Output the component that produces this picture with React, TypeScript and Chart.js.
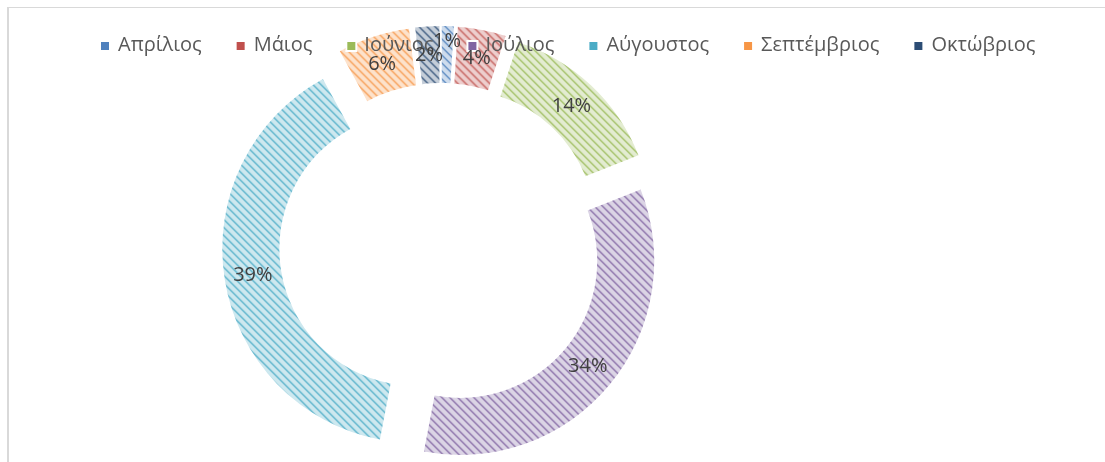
import React, { useEffect, useRef } from 'react';
import { Chart, registerables } from 'chart.js';

Chart.register(...registerables);

const months = ['Απρίλιος', 'Μάιος', 'Ιούνιος', 'Ιούλιος', 'Αύγουστος', 'Σεπτέμβριος', 'Οκτώβριος'];
const shares = [1, 4, 14, 34, 39, 6, 2];
const shareLabels = ['1%', '4%', '14%', '34%', '39%', '6%', '2%'];
const seriesColors = ['#4F81BD', '#C0504D', '#9BBB59', '#8064A2', '#4BACC6', '#F79646', '#2C4D75'];

const EXPLODE = 25;
const FONT = '20px "Open Sans"';

function mix(hex: string, amt: number): string {
  const n = parseInt(hex.slice(1), 16);
  const r = (n >> 16) & 255, g = (n >> 8) & 255, b = n & 255;
  const m = (c: number) => Math.round(c + (255 - c) * amt);
  return `rgb(${m(r)},${m(g)},${m(b)})`;
}

function makePattern(color: string): CanvasPattern | string {
  const c = document.createElement('canvas');
  c.width = 8;
  c.height = 8;
  const g = c.getContext('2d');
  if (!g) return color;
  g.fillStyle = mix(color, 0.72);
  g.fillRect(0, 0, 8, 8);
  for (let y = 0; y < 8; y++) {
    for (let x = 0; x < 8; x++) {
      const k = (((x - y) % 8) + 8) % 8;
      if (k === 1) {
        g.fillStyle = mix(color, 0.08);
        g.fillRect(x, y, 1, 1);
      } else if (k === 0 || k === 2) {
        g.fillStyle = mix(color, 0.42);
        g.fillRect(x, y, 1, 1);
      }
    }
  }
  const p = g.createPattern(c, 'repeat');
  return p || color;
}

const explodePlugin = {
  id: 'explode',
  beforeDatasetDraw(chart: any, args: any) {
    const ctx = chart.ctx;
    args.meta.data.forEach((arc: any) => {
      const half = (arc.startAngle + arc.endAngle) / 2;
      ctx.save();
      ctx.translate(Math.cos(half) * EXPLODE, Math.sin(half) * EXPLODE);
      arc.draw(ctx, chart.chartArea);
      ctx.restore();
    });
    return false;
  },
  afterDatasetsDraw(chart: any) {
    const ctx = chart.ctx;
    // legend
    ctx.save();
    ctx.font = FONT;
    ctx.textBaseline = 'alphabetic';
    ctx.textAlign = 'left';
    let x = 101;
    const baseY = 51;
    months.forEach((m, i) => {
      ctx.fillStyle = '#ffffff';
      ctx.fillRect(x - 2, 40, 12, 12);
      ctx.fillStyle = seriesColors[i];
      ctx.fillRect(x, 42, 8, 8);
      ctx.fillStyle = '#595959';
      const tx = x + 17;
      ctx.fillText(m, tx, baseY);
      x = tx + ctx.measureText(m).width + 35;
    });
    ctx.restore();

    // data labels (larger slices take priority)
    ctx.save();
    ctx.font = FONT;
    ctx.fillStyle = '#404040';
    ctx.textAlign = 'center';
    ctx.textBaseline = 'middle';
    const placed: { x: number; y: number; w: number }[] = [];
    const meta = chart.getDatasetMeta(0);
    const order = shares.map((_, i) => i).sort((a, b) => shares[b] - shares[a]);
    order.forEach((i) => {
      const arc = meta.data[i];
      const half = (arc.startAngle + arc.endAngle) / 2;
      const rMid = (arc.innerRadius + arc.outerRadius) / 2 + EXPLODE;
      const lx = arc.x + Math.cos(half) * rMid;
      let ly = arc.y + Math.sin(half) * rMid;
      const w = ctx.measureText(shareLabels[i]).width;
      for (let tries = 0; tries < 5; tries++) {
        const hit = placed.some(
          (p) => Math.abs(p.x - lx) < (p.w + w) / 2 - 4 && Math.abs(p.y - ly) < 11
        );
        if (!hit) break;
        ly -= 13;
      }
      placed.push({ x: lx, y: ly, w });
      ctx.fillText(shareLabels[i], lx, ly);
    });
    ctx.restore();
  },
};

export default function App() {
  const ref = useRef<HTMLCanvasElement | null>(null);

  useEffect(() => {
    if (!ref.current) return;
    const chart = new Chart(ref.current, {
      type: 'doughnut',
      data: {
        labels: months,
        datasets: [
          {
            data: shares,
            backgroundColor: seriesColors.map(makePattern),
            borderWidth: 0,
          },
        ],
      },
      options: {
        responsive: false,
        animation: false,
        radius: 194,
        cutout: '70.6%',
        layout: { padding: { left: 0, right: 223, top: 28, bottom: 0 } },
        plugins: {
          legend: { display: false },
          tooltip: { enabled: false },
        },
      },
      plugins: [explodePlugin],
    });
    return () => chart.destroy();
  }, []);

  return (
    <div>
      <div
        style={{
          position: 'fixed',
          left: 7,
          top: 7,
          width: 1098,
          height: 455,
          boxSizing: 'border-box',
          borderTop: '1px solid #d9d9d9',
          borderLeft: '2px solid #d9d9d9',
        }}
      />
      <canvas
        ref={ref}
        width={1105}
        height={462}
        style={{ position: 'fixed', left: 0, top: 0, width: 1105, height: 462 }}
      />
    </div>
  );
}
